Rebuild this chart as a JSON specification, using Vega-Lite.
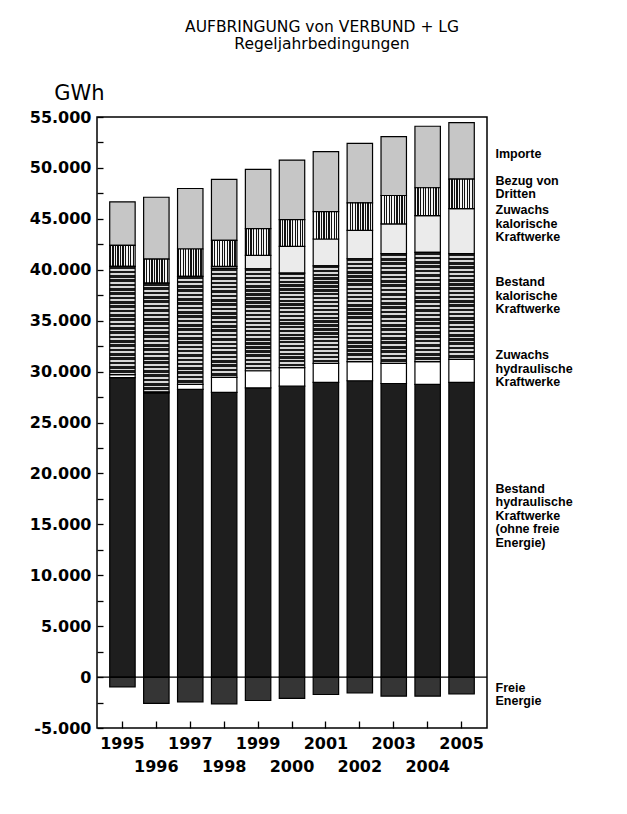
{
  "$schema": "https://vega.github.io/schema/vega-lite/v6.json",
  "autosize": {"type": "none"},
  "padding": {"left": 97, "top": 117, "right": 140, "bottom": 86},
  "width": 390,
  "height": 611,
  "background": "white",
  "title": {
    "text": ["AUFBRINGUNG von VERBUND + LG", "Regeljahrbedingungen"],
    "font": "DejaVu Sans",
    "fontSize": 15.5,
    "fontWeight": "normal",
    "lineHeight": 17,
    "anchor": "middle",
    "dx": 30,
    "offset": 30,
    "color": "black"
  },
  "datasets": {
    "segs": [
      {"year": 1995, "cat": "Freie Energie", "gwh": -960},
      {"year": 1995, "cat": "Bestand hydraulische Kraftwerke", "gwh": 29400},
      {"year": 1995, "cat": "Zuwachs hydraulische Kraftwerke", "gwh": 300},
      {"year": 1995, "cat": "Bestand kalorische Kraftwerke", "gwh": 10630},
      {"year": 1995, "cat": "Bezug von Dritten", "gwh": 2070},
      {"year": 1995, "cat": "Importe", "gwh": 4270},
      {"year": 1996, "cat": "Freie Energie", "gwh": -2590},
      {"year": 1996, "cat": "Bestand hydraulische Kraftwerke", "gwh": 27910},
      {"year": 1996, "cat": "Zuwachs hydraulische Kraftwerke", "gwh": 100},
      {"year": 1996, "cat": "Bestand kalorische Kraftwerke", "gwh": 10680},
      {"year": 1996, "cat": "Bezug von Dritten", "gwh": 2360},
      {"year": 1996, "cat": "Importe", "gwh": 6070},
      {"year": 1997, "cat": "Freie Energie", "gwh": -2430},
      {"year": 1997, "cat": "Bestand hydraulische Kraftwerke", "gwh": 28250},
      {"year": 1997, "cat": "Zuwachs hydraulische Kraftwerke", "gwh": 490},
      {"year": 1997, "cat": "Bestand kalorische Kraftwerke", "gwh": 10600},
      {"year": 1997, "cat": "Bezug von Dritten", "gwh": 2700},
      {"year": 1997, "cat": "Importe", "gwh": 5940},
      {"year": 1998, "cat": "Freie Energie", "gwh": -2630},
      {"year": 1998, "cat": "Bestand hydraulische Kraftwerke", "gwh": 27950},
      {"year": 1998, "cat": "Zuwachs hydraulische Kraftwerke", "gwh": 1480},
      {"year": 1998, "cat": "Bestand kalorische Kraftwerke", "gwh": 10700},
      {"year": 1998, "cat": "Zuwachs kalorische Kraftwerke", "gwh": 200},
      {"year": 1998, "cat": "Bezug von Dritten", "gwh": 2560},
      {"year": 1998, "cat": "Importe", "gwh": 5980},
      {"year": 1999, "cat": "Freie Energie", "gwh": -2300},
      {"year": 1999, "cat": "Bestand hydraulische Kraftwerke", "gwh": 28400},
      {"year": 1999, "cat": "Zuwachs hydraulische Kraftwerke", "gwh": 1680},
      {"year": 1999, "cat": "Bestand kalorische Kraftwerke", "gwh": 10020},
      {"year": 1999, "cat": "Zuwachs kalorische Kraftwerke", "gwh": 1310},
      {"year": 1999, "cat": "Bezug von Dritten", "gwh": 2630},
      {"year": 1999, "cat": "Importe", "gwh": 5810},
      {"year": 2000, "cat": "Freie Energie", "gwh": -2100},
      {"year": 2000, "cat": "Bestand hydraulische Kraftwerke", "gwh": 28570},
      {"year": 2000, "cat": "Zuwachs hydraulische Kraftwerke", "gwh": 1810},
      {"year": 2000, "cat": "Bestand kalorische Kraftwerke", "gwh": 9290},
      {"year": 2000, "cat": "Zuwachs kalorische Kraftwerke", "gwh": 2630},
      {"year": 2000, "cat": "Bezug von Dritten", "gwh": 2630},
      {"year": 2000, "cat": "Importe", "gwh": 5840},
      {"year": 2001, "cat": "Freie Energie", "gwh": -1710},
      {"year": 2001, "cat": "Bestand hydraulische Kraftwerke", "gwh": 28940},
      {"year": 2001, "cat": "Zuwachs hydraulische Kraftwerke", "gwh": 1860},
      {"year": 2001, "cat": "Bestand kalorische Kraftwerke", "gwh": 9590},
      {"year": 2001, "cat": "Zuwachs kalorische Kraftwerke", "gwh": 2630},
      {"year": 2001, "cat": "Bezug von Dritten", "gwh": 2690},
      {"year": 2001, "cat": "Importe", "gwh": 5890},
      {"year": 2002, "cat": "Freie Energie", "gwh": -1550},
      {"year": 2002, "cat": "Bestand hydraulische Kraftwerke", "gwh": 29100},
      {"year": 2002, "cat": "Zuwachs hydraulische Kraftwerke", "gwh": 1870},
      {"year": 2002, "cat": "Bestand kalorische Kraftwerke", "gwh": 10110},
      {"year": 2002, "cat": "Zuwachs kalorische Kraftwerke", "gwh": 2790},
      {"year": 2002, "cat": "Bezug von Dritten", "gwh": 2700},
      {"year": 2002, "cat": "Importe", "gwh": 5840},
      {"year": 2003, "cat": "Freie Energie", "gwh": -1870},
      {"year": 2003, "cat": "Bestand hydraulische Kraftwerke", "gwh": 28830},
      {"year": 2003, "cat": "Zuwachs hydraulische Kraftwerke", "gwh": 1970},
      {"year": 2003, "cat": "Bestand kalorische Kraftwerke", "gwh": 10780},
      {"year": 2003, "cat": "Zuwachs kalorische Kraftwerke", "gwh": 2920},
      {"year": 2003, "cat": "Bezug von Dritten", "gwh": 2790},
      {"year": 2003, "cat": "Importe", "gwh": 5780},
      {"year": 2004, "cat": "Freie Energie", "gwh": -1870},
      {"year": 2004, "cat": "Bestand hydraulische Kraftwerke", "gwh": 28740},
      {"year": 2004, "cat": "Zuwachs hydraulische Kraftwerke", "gwh": 2230},
      {"year": 2004, "cat": "Bestand kalorische Kraftwerke", "gwh": 10740},
      {"year": 2004, "cat": "Zuwachs kalorische Kraftwerke", "gwh": 3610},
      {"year": 2004, "cat": "Bezug von Dritten", "gwh": 2730},
      {"year": 2004, "cat": "Importe", "gwh": 6040},
      {"year": 2005, "cat": "Freie Energie", "gwh": -1640},
      {"year": 2005, "cat": "Bestand hydraulische Kraftwerke", "gwh": 28940},
      {"year": 2005, "cat": "Zuwachs hydraulische Kraftwerke", "gwh": 2260},
      {"year": 2005, "cat": "Bestand kalorische Kraftwerke", "gwh": 10380},
      {"year": 2005, "cat": "Zuwachs kalorische Kraftwerke", "gwh": 4430},
      {"year": 2005, "cat": "Bezug von Dritten", "gwh": 2890},
      {"year": 2005, "cat": "Importe", "gwh": 5550}
    ]
  },
  "layer": [
    {
      "data": {"name": "segs"},
      "transform": [
        {"calculate": "indexof(['Freie Energie', 'Bestand hydraulische Kraftwerke', 'Zuwachs hydraulische Kraftwerke', 'Bestand kalorische Kraftwerke', 'Zuwachs kalorische Kraftwerke', 'Bezug von Dritten', 'Importe'], datum.cat)", "as": "rk"},
        {"stack": "gwh", "groupby": ["year"], "sort": [{"field": "rk", "order": "ascending"}], "offset": "zero", "as": ["v0", "v1"]}
      ],
      "encoding": {
        "x": {
          "field": "year",
          "type": "ordinal",
          "scale": {"paddingInner": 0.25, "paddingOuter": 0.375},
          "axis": {
            "title": null,
            "domain": false,
            "tickSize": -7,
            "tickColor": "black",
            "tickWidth": 1.3,
            "labelAngle": 0,
            "labelFont": "DejaVu Sans",
            "labelFontSize": 16,
            "labelFontWeight": "bold",
            "labelColor": "black",
            "labelBaseline": "top",
            "labelPadding": {"condition": {"test": "datum.value % 2 == 0", "value": 37}, "value": 14}
          }
        },
        "y": {
          "field": "v0",
          "type": "quantitative",
          "scale": {"domain": [-5000, 55000], "nice": false, "zero": false},
          "axis": {
            "title": "GWh",
            "titleAngle": 0,
            "titleAlign": "center",
            "titleBaseline": "alphabetic",
            "titleX": -18,
            "titleY": -18,
            "titleFont": "DejaVu Sans",
            "titleFontSize": 21,
            "titleFontWeight": "normal",
            "titleColor": "black",
            "values": [-5000, -2500, 0, 2500, 5000, 7500, 10000, 12500, 15000, 17500, 20000, 22500, 25000, 27500, 30000, 32500, 35000, 37500, 40000, 42500, 45000, 47500, 50000, 52500, 55000],
            "format": ",d",
            "labelExpr": "datum.value % 5000 == 0 ? datum.label : ''",
            "domain": false,
            "grid": false,
            "tickSize": -6,
            "tickColor": "black",
            "tickWidth": 1.3,
            "labelFont": "DejaVu Sans",
            "labelFontSize": 16,
            "labelFontWeight": "bold",
            "labelColor": "black",
            "labelPadding": 12,
            "labelOverlap": false,
            "labelFlush": false
          }
        },
        "y2": {"field": "v1"}
      },
      "layer": [
        {
          "transform": [{"filter": "datum.cat != 'Bezug von Dritten' && datum.cat != 'Bestand kalorische Kraftwerke'"}],
          "mark": {"type": "bar", "stroke": "black", "strokeWidth": 1.2},
          "encoding": {
            "color": {
              "field": "cat",
              "type": "nominal",
              "scale": {
                "domain": ["Freie Energie", "Bestand hydraulische Kraftwerke", "Zuwachs hydraulische Kraftwerke", "Zuwachs kalorische Kraftwerke", "Importe"],
                "range": ["#353535", "#1e1e1e", "#ffffff", "#ebebeb", "#c6c6c6"]
              },
              "legend": null
            }
          }
        },
        {
          "transform": [{"filter": "datum.cat == 'Bezug von Dritten'"}],
          "mark": {
            "type": "bar",
            "stroke": "black",
            "strokeWidth": 1.2,
            "fill": {
              "gradient": "linear", "x1": 0, "y1": 0, "x2": 1, "y2": 0,
              "stops": [
                {"offset": 0, "color": "#111"}, {"offset": 0.05, "color": "#111"}, {"offset": 0.05, "color": "#f4f4f4"}, {"offset": 0.1, "color": "#f4f4f4"},
                {"offset": 0.1, "color": "#111"}, {"offset": 0.15, "color": "#111"}, {"offset": 0.15, "color": "#f4f4f4"}, {"offset": 0.2, "color": "#f4f4f4"},
                {"offset": 0.2, "color": "#111"}, {"offset": 0.25, "color": "#111"}, {"offset": 0.25, "color": "#f4f4f4"}, {"offset": 0.3, "color": "#f4f4f4"},
                {"offset": 0.3, "color": "#111"}, {"offset": 0.35, "color": "#111"}, {"offset": 0.35, "color": "#f4f4f4"}, {"offset": 0.4, "color": "#f4f4f4"},
                {"offset": 0.4, "color": "#111"}, {"offset": 0.45, "color": "#111"}, {"offset": 0.45, "color": "#f4f4f4"}, {"offset": 0.5, "color": "#f4f4f4"},
                {"offset": 0.5, "color": "#111"}, {"offset": 0.55, "color": "#111"}, {"offset": 0.55, "color": "#f4f4f4"}, {"offset": 0.6, "color": "#f4f4f4"},
                {"offset": 0.6, "color": "#111"}, {"offset": 0.65, "color": "#111"}, {"offset": 0.65, "color": "#f4f4f4"}, {"offset": 0.7, "color": "#f4f4f4"},
                {"offset": 0.7, "color": "#111"}, {"offset": 0.75, "color": "#111"}, {"offset": 0.75, "color": "#f4f4f4"}, {"offset": 0.8, "color": "#f4f4f4"},
                {"offset": 0.8, "color": "#111"}, {"offset": 0.85, "color": "#111"}, {"offset": 0.85, "color": "#f4f4f4"}, {"offset": 0.9, "color": "#f4f4f4"},
                {"offset": 0.9, "color": "#111"}, {"offset": 0.95, "color": "#111"}, {"offset": 0.95, "color": "#f4f4f4"}, {"offset": 1, "color": "#f4f4f4"}
              ]
            }
          }
        },
        {
          "transform": [{"filter": "datum.cat == 'Bestand kalorische Kraftwerke'"}],
          "mark": {
            "type": "bar",
            "stroke": "black",
            "strokeWidth": 1.2,
            "fill": {
              "gradient": "linear", "x1": 0, "y1": 0, "x2": 0, "y2": 1,
              "stops": [
                {"offset": 0, "color": "#1a1a1a"}, {"offset": 0.024, "color": "#1a1a1a"}, {"offset": 0.024, "color": "#d8d8d8"}, {"offset": 0.04, "color": "#d8d8d8"},
                {"offset": 0.04, "color": "#1a1a1a"}, {"offset": 0.064, "color": "#1a1a1a"}, {"offset": 0.064, "color": "#d8d8d8"}, {"offset": 0.08, "color": "#d8d8d8"},
                {"offset": 0.08, "color": "#1a1a1a"}, {"offset": 0.104, "color": "#1a1a1a"}, {"offset": 0.104, "color": "#d8d8d8"}, {"offset": 0.12, "color": "#d8d8d8"},
                {"offset": 0.12, "color": "#1a1a1a"}, {"offset": 0.144, "color": "#1a1a1a"}, {"offset": 0.144, "color": "#d8d8d8"}, {"offset": 0.16, "color": "#d8d8d8"},
                {"offset": 0.16, "color": "#1a1a1a"}, {"offset": 0.184, "color": "#1a1a1a"}, {"offset": 0.184, "color": "#d8d8d8"}, {"offset": 0.2, "color": "#d8d8d8"},
                {"offset": 0.2, "color": "#1a1a1a"}, {"offset": 0.224, "color": "#1a1a1a"}, {"offset": 0.224, "color": "#d8d8d8"}, {"offset": 0.24, "color": "#d8d8d8"},
                {"offset": 0.24, "color": "#1a1a1a"}, {"offset": 0.264, "color": "#1a1a1a"}, {"offset": 0.264, "color": "#d8d8d8"}, {"offset": 0.28, "color": "#d8d8d8"},
                {"offset": 0.28, "color": "#1a1a1a"}, {"offset": 0.304, "color": "#1a1a1a"}, {"offset": 0.304, "color": "#d8d8d8"}, {"offset": 0.32, "color": "#d8d8d8"},
                {"offset": 0.32, "color": "#1a1a1a"}, {"offset": 0.344, "color": "#1a1a1a"}, {"offset": 0.344, "color": "#d8d8d8"}, {"offset": 0.36, "color": "#d8d8d8"},
                {"offset": 0.36, "color": "#1a1a1a"}, {"offset": 0.384, "color": "#1a1a1a"}, {"offset": 0.384, "color": "#d8d8d8"}, {"offset": 0.4, "color": "#d8d8d8"},
                {"offset": 0.4, "color": "#1a1a1a"}, {"offset": 0.424, "color": "#1a1a1a"}, {"offset": 0.424, "color": "#d8d8d8"}, {"offset": 0.44, "color": "#d8d8d8"},
                {"offset": 0.44, "color": "#1a1a1a"}, {"offset": 0.464, "color": "#1a1a1a"}, {"offset": 0.464, "color": "#d8d8d8"}, {"offset": 0.48, "color": "#d8d8d8"},
                {"offset": 0.48, "color": "#1a1a1a"}, {"offset": 0.504, "color": "#1a1a1a"}, {"offset": 0.504, "color": "#d8d8d8"}, {"offset": 0.52, "color": "#d8d8d8"},
                {"offset": 0.52, "color": "#1a1a1a"}, {"offset": 0.544, "color": "#1a1a1a"}, {"offset": 0.544, "color": "#d8d8d8"}, {"offset": 0.56, "color": "#d8d8d8"},
                {"offset": 0.56, "color": "#1a1a1a"}, {"offset": 0.584, "color": "#1a1a1a"}, {"offset": 0.584, "color": "#d8d8d8"}, {"offset": 0.6, "color": "#d8d8d8"},
                {"offset": 0.6, "color": "#1a1a1a"}, {"offset": 0.624, "color": "#1a1a1a"}, {"offset": 0.624, "color": "#d8d8d8"}, {"offset": 0.64, "color": "#d8d8d8"},
                {"offset": 0.64, "color": "#1a1a1a"}, {"offset": 0.664, "color": "#1a1a1a"}, {"offset": 0.664, "color": "#d8d8d8"}, {"offset": 0.68, "color": "#d8d8d8"},
                {"offset": 0.68, "color": "#1a1a1a"}, {"offset": 0.704, "color": "#1a1a1a"}, {"offset": 0.704, "color": "#d8d8d8"}, {"offset": 0.72, "color": "#d8d8d8"},
                {"offset": 0.72, "color": "#1a1a1a"}, {"offset": 0.744, "color": "#1a1a1a"}, {"offset": 0.744, "color": "#d8d8d8"}, {"offset": 0.76, "color": "#d8d8d8"},
                {"offset": 0.76, "color": "#1a1a1a"}, {"offset": 0.784, "color": "#1a1a1a"}, {"offset": 0.784, "color": "#d8d8d8"}, {"offset": 0.8, "color": "#d8d8d8"},
                {"offset": 0.8, "color": "#1a1a1a"}, {"offset": 0.824, "color": "#1a1a1a"}, {"offset": 0.824, "color": "#d8d8d8"}, {"offset": 0.84, "color": "#d8d8d8"},
                {"offset": 0.84, "color": "#1a1a1a"}, {"offset": 0.864, "color": "#1a1a1a"}, {"offset": 0.864, "color": "#d8d8d8"}, {"offset": 0.88, "color": "#d8d8d8"},
                {"offset": 0.88, "color": "#1a1a1a"}, {"offset": 0.904, "color": "#1a1a1a"}, {"offset": 0.904, "color": "#d8d8d8"}, {"offset": 0.92, "color": "#d8d8d8"},
                {"offset": 0.92, "color": "#1a1a1a"}, {"offset": 0.944, "color": "#1a1a1a"}, {"offset": 0.944, "color": "#d8d8d8"}, {"offset": 0.96, "color": "#d8d8d8"},
                {"offset": 0.96, "color": "#1a1a1a"}, {"offset": 0.984, "color": "#1a1a1a"}, {"offset": 0.984, "color": "#d8d8d8"}, {"offset": 1, "color": "#d8d8d8"}
              ]
            }
          }
        }
      ]
    },
    {
      "data": {"values": [{}]},
      "mark": {"type": "rule", "color": "black", "strokeWidth": 1.2},
      "encoding": {
        "y": {
          "datum": 0,
          "type": "quantitative",
          "axis": {
            "orient": "right",
            "title": null,
            "domain": false,
            "ticks": false,
            "grid": false,
            "values": [51430, 48770, 45910, 38820, 31630, 18520, -990],
            "labelExpr": "datum.value == 51430 ? 'Importe' : datum.value == 48770 ? ['Bezug von', 'Dritten'] : datum.value == 45910 ? ['Zuwachs', 'kalorische', 'Kraftwerke'] : datum.value == 38820 ? ['Bestand', 'kalorische', 'Kraftwerke'] : datum.value == 31630 ? ['Zuwachs', 'hydraulische', 'Kraftwerke'] : datum.value == 18520 ? ['Bestand', 'hydraulische', 'Kraftwerke', '(ohne freie', 'Energie)'] : ['Freie', 'Energie']",
            "labelFont": "Liberation Sans",
            "labelFontSize": 12.5,
            "labelFontWeight": "bold",
            "labelColor": "black",
            "labelLineHeight": 13.5,
            "labelAlign": "left",
            "labelBaseline": "middle",
            "labelPadding": 8,
            "labelOverlap": false,
            "labelFlush": false,
            "labelBound": false
          }
        }
      }
    }
  ],
  "resolve": {"axis": {"y": "independent"}},
  "config": {
    "locale": {
      "number": {"decimal": ",", "thousands": ".", "grouping": [3], "currency": ["", " €"], "minus": "-"}
    },
    "view": {"stroke": "black", "strokeWidth": 1.5},
    "axis": {"labelLimit": 300}
  }
}
